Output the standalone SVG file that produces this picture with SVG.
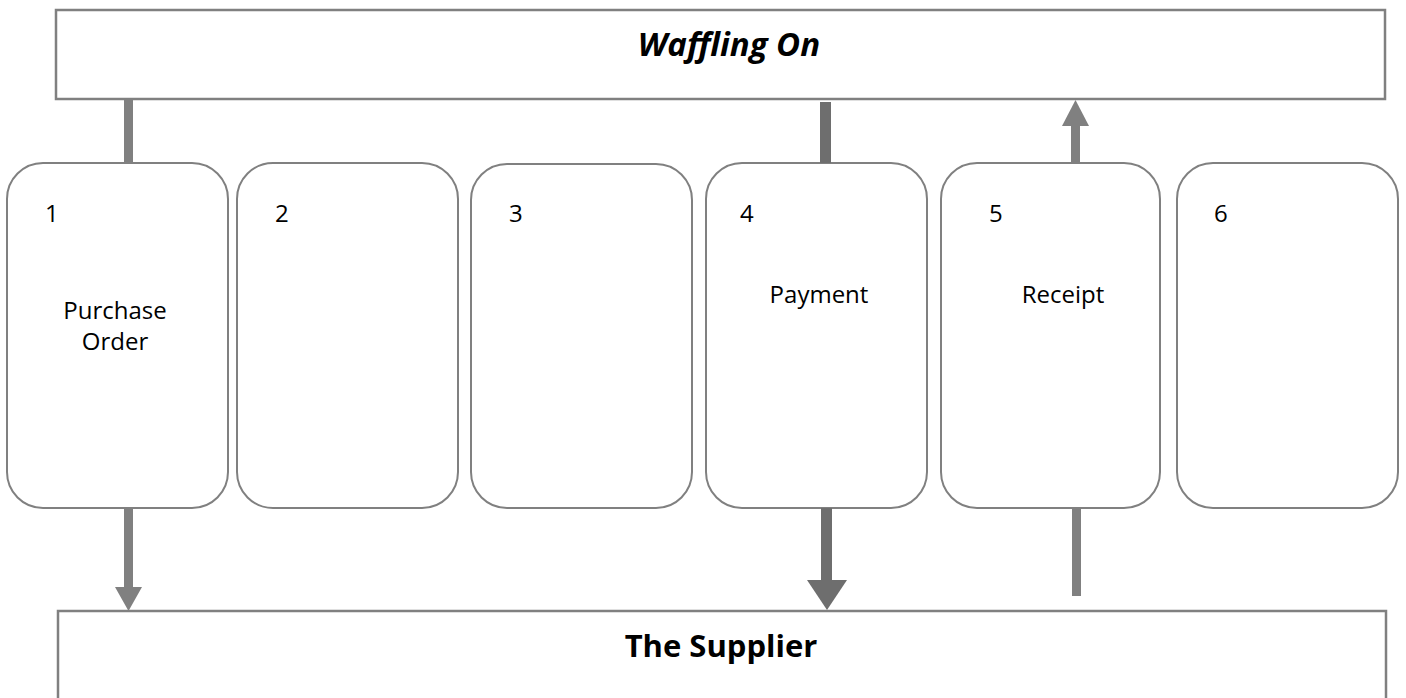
<svg xmlns="http://www.w3.org/2000/svg" width="1406" height="698" viewBox="0 0 1406 698">
  <style>
    .band { fill: #ffffff; stroke: #808080; stroke-width: 2.5; }
    .card { fill: #ffffff; stroke: #808080; stroke-width: 2; }
    .title { font-family: "Open Sans", "Liberation Sans", sans-serif; font-size: 31px; font-weight: bold; fill: #000000; text-anchor: middle; }
    .title-italic { font-style: italic; font-size: 33px; }
    .num { font-family: "Open Sans", "Liberation Sans", sans-serif; font-size: 24px; fill: #000000; }
    .label { font-family: "Open Sans", "Liberation Sans", sans-serif; font-size: 24px; fill: #000000; text-anchor: middle; }
    .flow { fill: #808080; }
    .flow-dark { fill: #6e6e6e; }
  </style>

  <!-- Top band: the business -->
  <g id="waffling-on">
    <rect class="band" x="56" y="10" width="1329" height="89"/>
    <text class="title title-italic" x="729" y="56">Waffling On</text>
  </g>

  <!-- Bottom band: the supplier -->
  <g id="supplier">
    <rect class="band" x="58" y="611" width="1328" height="100"/>
    <text class="title" x="721" y="657">The Supplier</text>
  </g>

  <!-- Process step cards -->
  <g id="step-1">
    <rect class="card" x="7" y="163" width="221" height="345" rx="36" ry="36"/>
    <text class="num" x="45" y="222">1</text>
    <text class="label" x="115" y="319">Purchase</text>
    <text class="label" x="115" y="350">Order</text>
  </g>
  <g id="step-2">
    <rect class="card" x="237" y="163" width="221" height="345" rx="36" ry="36"/>
    <text class="num" x="275" y="222">2</text>
  </g>
  <g id="step-3">
    <rect class="card" x="471" y="164" width="221" height="344" rx="36" ry="36"/>
    <text class="num" x="509" y="222">3</text>
  </g>
  <g id="step-4">
    <rect class="card" x="706" y="163" width="221" height="345" rx="36" ry="36"/>
    <text class="num" x="740" y="222">4</text>
    <text class="label" x="819" y="303">Payment</text>
  </g>
  <g id="step-5">
    <rect class="card" x="941" y="163" width="219" height="345" rx="36" ry="36"/>
    <text class="num" x="989" y="222">5</text>
    <text class="label" x="1063" y="303">Receipt</text>
  </g>
  <g id="step-6">
    <rect class="card" x="1177" y="163" width="221" height="345" rx="36" ry="36"/>
    <text class="num" x="1214" y="222">6</text>
  </g>

  <!-- Connectors -->
  <g id="connectors">
    <!-- Purchase order: business -> step 1 -> supplier -->
    <rect class="flow" x="124" y="99" width="9" height="64"/>
    <rect class="flow" x="124" y="508" width="9" height="80"/>
    <polygon class="flow" points="115,587 142,587 128.5,611"/>

    <!-- Payment: business -> step 4 -> supplier -->
    <rect class="flow-dark" x="820" y="102" width="11" height="61"/>
    <rect class="flow-dark" x="821" y="508" width="11" height="73"/>
    <polygon class="flow-dark" points="807,580 847,580 827,610"/>

    <!-- Receipt: supplier -> step 5 -> business -->
    <rect class="flow" x="1072" y="508" width="9" height="88"/>
    <rect class="flow" x="1071" y="125" width="9" height="38"/>
    <polygon class="flow" points="1062,126 1089,126 1075.5,100"/>
  </g>
</svg>
